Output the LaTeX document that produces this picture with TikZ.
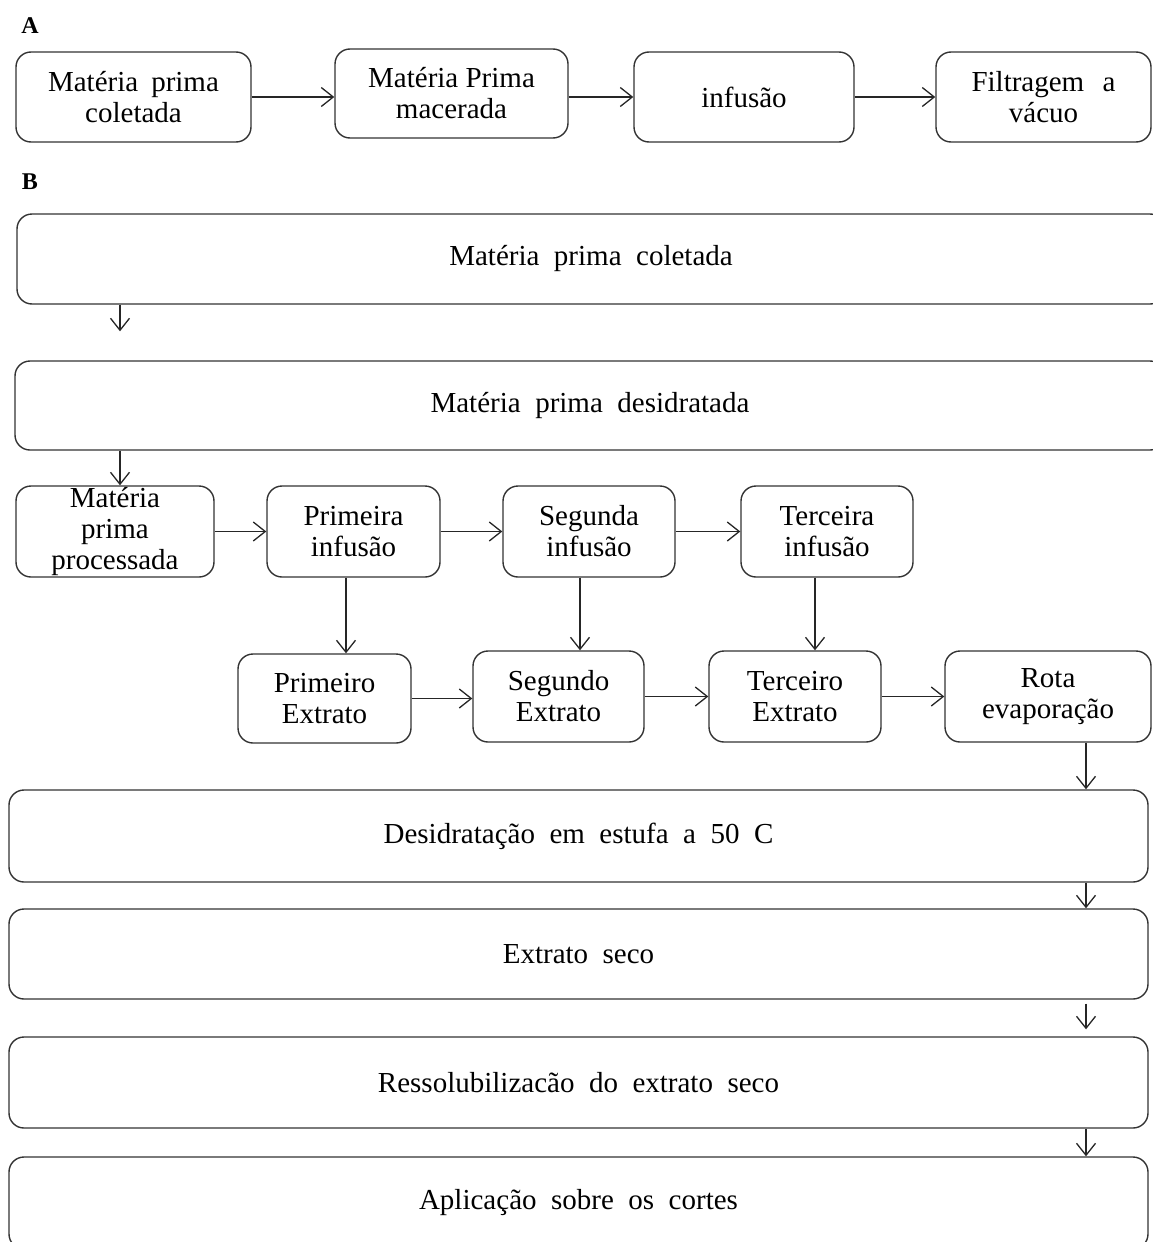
\documentclass[tikz,border=0pt]{standalone}
\usepackage{fontspec}
\setmainfont{Liberation Serif}
\usetikzlibrary{arrows.meta}
\newcommand\boxfont{\fontsize{29}{31}\selectfont}
\newcommand\widefont{\fontsize{29}{31}\selectfont\spaceskip 0.5em\relax}
\begin{document}
\begin{tikzpicture}[x=1pt,y=-1pt,
  box/.style={draw=black!80, line width=1.4pt, rounded corners=15pt, align=center, inner sep=0pt,
              font=\boxfont},
  wide/.style={box, font=\widefont},
  arr/.style={draw=black!85, line width=1.3pt, -{Straight Barb[length=12pt,width=19pt]}},
  lbl/.style={font=\fontsize{24}{26}\selectfont\bfseries}]
\useasboundingbox (0,0) rectangle (1152,1242);
% labels
\node[lbl] (labA) at (30,26) {A};
\node[lbl] (labB) at (30,182) {B};
% row A
\node[box, minimum width=235pt, minimum height=90pt] (a1) at (133.5,97) {Matéria\hspace{13pt}prima\\coletada};
\node[box, minimum width=233pt, minimum height=89pt] (a2) at (451.5,93.5) {Matéria Prima\\macerada};
\node[box, minimum width=220pt, minimum height=90pt] (a3) at (744,97) {infusão};
\node[box, minimum width=215pt, minimum height=90pt] (a4) at (1043.5,97) {\makebox[144pt][s]{Filtragem a}\\vácuo};
\draw[arr] (a1.east) -- (a1.east -| a2.west);
\draw[arr] (a3.west -| a2.east) -- (a3.west);
\draw[arr] (a3.east) -- (a4.west);
% row B top
\node[wide, minimum width=1148pt, minimum height=90pt] (b1) at (591,259) {Matéria prima coletada};
\node[wide, minimum width=1150pt, minimum height=89pt] (b2) at (590,405.5) {Matéria prima desidratada};
\node[box, minimum width=198pt, minimum height=91pt] (c1) at (115,531.5) {Matéria\\prima\\processada};
\draw[arr, shorten >=29pt] ([xshift=5pt]c1.north |- b1.south) -- ([xshift=5pt]c1.north |- b2.north);
\draw[arr] ([xshift=5pt]c1.north |- b2.south) -- ([xshift=5pt]c1.north);
% infusions
\node[box, minimum width=173pt, minimum height=91pt] (c2) at (353.5,531.5) {Primeira\\infusão};
\node[box, minimum width=172pt, minimum height=91pt] (c3) at (589,531.5) {Segunda\\infusão};
\node[box, minimum width=172pt, minimum height=91pt] (c4) at (827,531.5) {Terceira\\infusão};
\draw[arr] (c1.east) -- (c2.west);
\draw[arr] (c2.east) -- (c3.west);
\draw[arr] (c3.east) -- (c4.west);
% extracts
\node[box, minimum width=173pt, minimum height=89pt] (d1) at (324.5,698.5) {Primeiro\\Extrato};
\node[box, minimum width=171pt, minimum height=91pt] (d2) at (558.5,696.5) {Segundo\\Extrato};
\node[box, minimum width=172pt, minimum height=91pt] (d3) at (795,696.5) {Terceiro\\Extrato};
\node[box, minimum width=206pt, minimum height=91pt] (d4) at (1048,696.5) {Rota\\evaporação};
\draw[arr] ([xshift=-7.5pt]c2.south) -- ([xshift=-7.5pt]c2.south |- d1.north);
\draw[arr] ([xshift=-9pt]c3.south) -- ([xshift=-9pt]c3.south |- d2.north);
\draw[arr] ([xshift=-12pt]c4.south) -- ([xshift=-12pt]c4.south |- d3.north);
\draw[arr] (d1.east) -- (d1.east -| d2.west);
\draw[arr] (d2.east) -- (d3.west);
\draw[arr] (d3.east) -- (d4.west);
% bottom chain
\node[wide, minimum width=1139pt, minimum height=92pt] (e1) at (578.5,836) {Desidratação em estufa a 50 C};
\node[wide, minimum width=1139pt, minimum height=90pt] (e2) at (578.5,954) {Extrato seco};
\node[wide, minimum width=1139pt, minimum height=91pt] (e3) at (578.5,1082.5) {Ressolubilizacão do extrato seco};
\node[wide, minimum width=1139pt, minimum height=92pt] (e4) at (578.5,1203) {Aplicação sobre os cortes};
\draw[arr] ([xshift=38pt]d4.south) -- ([xshift=38pt]d4.south |- e1.north);
\draw[arr] ([xshift=507.5pt]e1.south) -- ([xshift=507.5pt]e2.north);
\draw[arr, shorten <=4pt, shorten >=7pt] ([xshift=507.5pt]e2.south) -- ([xshift=507.5pt]e3.north);
\draw[arr] ([xshift=507.5pt]e3.south) -- ([xshift=507.5pt]e4.north);
\end{tikzpicture}
\end{document}
